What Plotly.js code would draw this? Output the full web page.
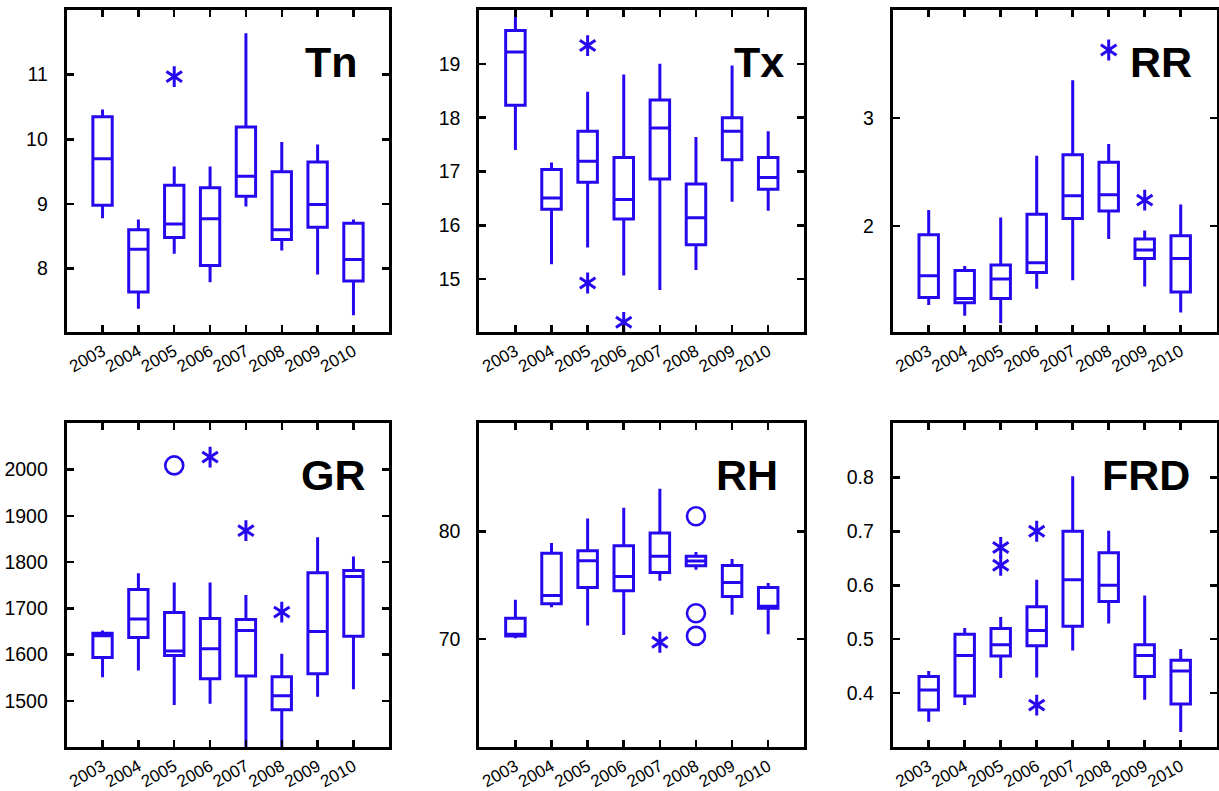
<!DOCTYPE html>
<html>
<head>
<meta charset="utf-8">
<script src="https://cdn.plot.ly/plotly-3.0.1.min.js"></script>
<style>html,body{margin:0;padding:0;background:#fff;}#chart{width:1219px;height:791px;}</style>
</head>
<body>
<div id="chart"></div>
<script>
// ---------- data ----------
const years = ['2003','2004','2005','2006','2007','2008','2009','2010'];
const panelNames = ['Tn','Tx','RR','GR','RH','FRD'];

// Tn
const tnLow  = [8.78, 7.38, 8.23, 7.79, 8.96, 8.28, 7.91, 7.28];
const tnQ1   = [8.98, 7.64, 8.48, 8.05, 9.12, 8.45, 8.64, 7.81];
const tnMed  = [9.70, 8.30, 8.69, 8.77, 9.43, 8.60, 8.99, 8.14];
const tnQ3   = [10.35, 8.60, 9.29, 9.25, 10.19, 9.50, 9.65, 8.70];
const tnHigh = [10.46, 8.76, 9.58, 9.58, 11.64, 9.96, 9.92, 8.76];
const tnStarX = ['2005'];
const tnStarY = [10.97];
const tnTicks = [8, 9, 10, 11];

// Tx
const txLow  = [17.40, 15.28, 15.59, 15.07, 14.80, 15.17, 16.44, 16.27];
const txQ1   = [18.23, 16.30, 16.80, 16.12, 16.86, 15.64, 17.22, 16.67];
const txMed  = [19.22, 16.51, 17.19, 16.48, 17.81, 16.14, 17.75, 16.89];
const txQ3   = [19.62, 17.04, 17.75, 17.26, 18.33, 16.77, 18.00, 17.26];
const txHigh = [19.88, 17.17, 18.48, 18.80, 19.00, 17.64, 18.97, 17.75];
const txStarX = ['2005', '2005', '2006'];
const txStarY = [19.34, 14.93, 14.20];
const txTicks = [15, 16, 17, 18, 19];

// RR
const rrLow  = [1.27, 1.17, 1.10, 1.42, 1.50, 1.88, 1.44, 1.20];
const rrQ1   = [1.34, 1.29, 1.33, 1.57, 2.07, 2.14, 1.70, 1.39];
const rrMed  = [1.54, 1.33, 1.51, 1.66, 2.28, 2.29, 1.78, 1.70];
const rrQ3   = [1.92, 1.59, 1.64, 2.11, 2.66, 2.59, 1.88, 1.91];
const rrHigh = [2.15, 1.63, 2.08, 2.65, 3.35, 2.76, 1.96, 2.20];
const rrStarX = ['2008', '2009'];
const rrStarY = [3.63, 2.24];
const rrTicks = [2, 3];

// GR
const grLow  = [1551, 1566, 1491, 1494, 1395, 1395, 1509, 1525];
const grQ1   = [1594, 1637, 1598, 1548, 1554, 1481, 1559, 1640];
const grMed  = [1641, 1677, 1608, 1613, 1652, 1511, 1650, 1769];
const grQ3   = [1646, 1741, 1691, 1678, 1676, 1552, 1777, 1782];
const grHigh = [1652, 1776, 1756, 1756, 1729, 1602, 1854, 1812];
const grCircX = ['2005'];
const grCircY = [2009];
const grStarX = ['2006', '2007', '2008'];
const grStarY = [2027, 1868, 1692];
const grTicks = [1500, 1600, 1700, 1800, 1900, 2000];

// RH
const rhLow  = [70.09, 72.97, 71.27, 70.40, 75.42, 76.44, 72.26, 70.46];
const rhQ1   = [70.31, 73.28, 74.80, 74.49, 76.19, 76.81, 73.96, 72.88];
const rhMed  = [70.45, 74.06, 77.28, 75.82, 77.68, 77.24, 75.26, 73.05];
const rhQ3   = [71.95, 77.96, 78.20, 78.67, 79.85, 77.68, 76.84, 74.80];
const rhHigh = [73.65, 78.92, 81.18, 82.17, 83.93, 78.08, 77.43, 75.20];
const rhCircX = ['2008', '2008', '2008'];
const rhCircY = [81.39, 72.41, 70.31];
const rhStarX = ['2007'];
const rhStarY = [69.72];
const rhTicks = [70, 80];

// FRD
const frdLow  = [0.347, 0.378, 0.428, 0.429, 0.479, 0.529, 0.388, 0.328];
const frdQ1   = [0.369, 0.395, 0.469, 0.488, 0.524, 0.570, 0.431, 0.380];
const frdMed  = [0.406, 0.470, 0.490, 0.516, 0.610, 0.600, 0.470, 0.441];
const frdQ3   = [0.431, 0.509, 0.520, 0.560, 0.700, 0.660, 0.490, 0.461];
const frdHigh = [0.441, 0.521, 0.541, 0.610, 0.802, 0.701, 0.581, 0.482];
const frdStarX = ['2005', '2005', '2006', '2006'];
const frdStarY = [0.670, 0.637, 0.700, 0.378];
const frdTicks = [0.4, 0.5, 0.6, 0.7, 0.8];

// ---------- styling ----------
const BLUE = 'rgb(38,8,238)';
const FONT = 'Liberation Sans, Arial, Helvetica, sans-serif';

const panels = [
  {low: tnLow, q1: tnQ1, med: tnMed, q3: tnQ3, high: tnHigh, starX: tnStarX, starY: tnStarY, circX: [], circY: [], ticks: tnTicks, range: [7.02, 12.0], tx: 0.91},
  {low: txLow, q1: txQ1, med: txMed, q3: txQ3, high: txHigh, starX: txStarX, starY: txStarY, circX: [], circY: [], ticks: txTicks, range: [14.02, 20.0], tx: 0.945},
  {low: rrLow, q1: rrQ1, med: rrMed, q3: rrQ3, high: rrHigh, starX: rrStarX, starY: rrStarY, circX: [], circY: [], ticks: rrTicks, range: [1.02, 4.0], tx: 0.93},
  {low: grLow, q1: grQ1, med: grMed, q3: grQ3, high: grHigh, starX: grStarX, starY: grStarY, circX: grCircX, circY: grCircY, ticks: grTicks, range: [1400, 2100], tx: 0.935},
  {low: rhLow, q1: rhQ1, med: rhMed, q3: rhQ3, high: rhHigh, starX: rhStarX, starY: rhStarY, circX: rhCircX, circY: rhCircY, ticks: rhTicks, range: [60, 90], tx: 0.925},
  {low: frdLow, q1: frdQ1, med: frdMed, q3: frdQ3, high: frdHigh, starX: frdStarX, starY: frdStarY, circX: [], circY: [], ticks: frdTicks, range: [0.3, 0.9], tx: 0.925}
];

const W = 1219, H = 791;
const colDomains = [[66.7/W, 389.3/W], [479.3/W, 804.3/W], [892.7/W, 1216.7/W]];
const rowDomains = [[1 - 332/H, 1 - 10/H], [1 - 747.2/H, 1 - 423.3/H]];

const traces = [];
const layout = {
  width: W, height: H,
  margin: {l: 0, r: 0, t: 0, b: 0, pad: 0},
  paper_bgcolor: 'white', plot_bgcolor: 'white',
  showlegend: false,
  font: {family: FONT, color: 'black'},
  annotations: []
};

panels.forEach((p, i) => {
  const n = i + 1;
  const xk = n === 1 ? 'x' : 'x' + n;
  const yk = n === 1 ? 'y' : 'y' + n;
  const xaName = n === 1 ? 'xaxis' : 'xaxis' + n;
  const yaName = n === 1 ? 'yaxis' : 'yaxis' + n;

  traces.push({
    type: 'box', xaxis: xk, yaxis: yk,
    x: years, q1: p.q1, median: p.med, q3: p.q3,
    lowerfence: p.low, upperfence: p.high,
    boxpoints: false, width: 0.54, whiskerwidth: 0,
    line: {color: BLUE, width: 3},
    fillcolor: 'rgba(0,0,0,0)',
    hoverinfo: 'skip'
  });
  if (p.starX.length) {
    ['y-up-open', 'y-down-open'].forEach(sym => {
      traces.push({
        type: 'scatter', mode: 'markers', xaxis: xk, yaxis: yk,
        x: p.starX, y: p.starY, cliponaxis: false,
        marker: {symbol: sym, size: 13, color: BLUE, line: {color: BLUE, width: 3}},
        hoverinfo: 'skip'
      });
    });
  }
  if (p.circX.length) {
    traces.push({
      type: 'scatter', mode: 'markers', xaxis: xk, yaxis: yk,
      x: p.circX, y: p.circY,
      marker: {symbol: 'circle-open', size: 18, color: BLUE, line: {color: BLUE, width: 2.6}},
      hoverinfo: 'skip'
    });
  }

  const col = i % 3, row = Math.floor(i / 3);
  layout[xaName] = {
    domain: colDomains[col], anchor: yk, type: 'category',
    categoryorder: 'array', categoryarray: years,
    range: [-1, 8],
    showline: true, linecolor: 'black', linewidth: 3, mirror: 'allticks',
    ticks: 'inside', ticklen: 7, tickwidth: 2.5, tickcolor: 'black',
    tickangle: -29, tickfont: {size: 17, family: FONT, color: 'black'},
    ticklabelstandoff: 0,
    showgrid: false, zeroline: false, fixedrange: true
  };
  layout[yaName] = {
    domain: rowDomains[row], anchor: xk,
    range: p.range, tickmode: 'array', tickvals: p.ticks,
    showline: true, linecolor: 'black', linewidth: 3, mirror: 'allticks',
    ticks: 'inside', ticklen: 7, tickwidth: 2.5, tickcolor: 'black',
    tickfont: {size: 19.5, family: FONT, color: 'black'},
    ticklabelstandoff: 12,
    showgrid: false, zeroline: false, fixedrange: true
  };
  layout.annotations.push({
    xref: xk + ' domain', yref: yk + ' domain',
    x: p.tx, y: 0.84, xanchor: 'right', yanchor: 'middle',
    text: '<b>' + panelNames[i] + '</b>', showarrow: false,
    font: {size: 43, family: FONT, color: 'black'}
  });
});

Plotly.newPlot('chart', traces, layout, {displayModeBar: false, staticPlot: true});
</script>
</body>
</html>
